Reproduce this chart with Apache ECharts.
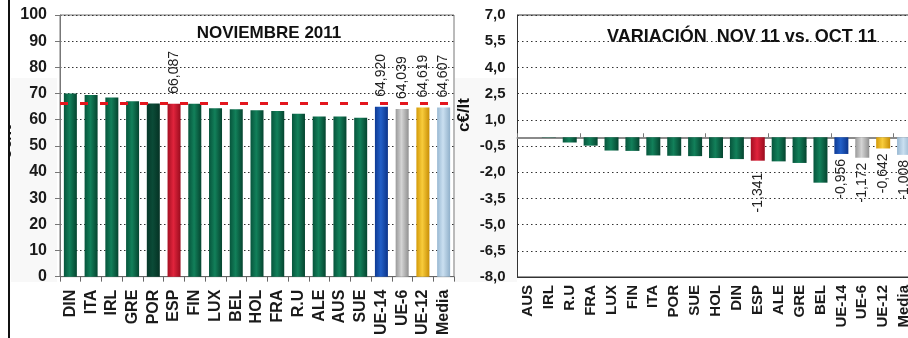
<!DOCTYPE html>
<html>
<head>
<meta charset="utf-8">
<script src="https://cdn.jsdelivr.net/npm/echarts@6/dist/echarts.min.js"></script>
<style>
  html, body { margin: 0; padding: 0; background: #fff; overflow: hidden; }
  /* a bit wider than the window: the right chart runs off the edge like the original */
  #chart { width: 930px; height: 338px; }
</style>
</head>
<body>
<div id="chart"></div>
<script>
// Noviembre 2011 (c€/lt)
const catsNov = ['DIN', 'ITA', 'IRL', 'GRE', 'POR', 'ESP', 'FIN', 'LUX', 'BEL', 'HOL', 'FRA', 'R.U', 'ALE', 'AUS', 'SUE', 'UE-14', 'UE-6', 'UE-12', 'Media'];
const valsNov = [70.0, 69.4, 68.5, 67.0, 66.2, 66.087, 66.1, 64.4, 64.0, 63.6, 63.3, 62.3, 61.2, 61.2, 60.7, 64.920, 64.039, 64.619, 64.607];
const refNov = 66.4; // linea roja discontinua

// Variacion nov 11 vs oct 11
const catsVar = ['AUS', 'IRL', 'R.U', 'FRA', 'LUX', 'FIN', 'ITA', 'POR', 'SUE', 'HOL', 'DIN', 'ESP', 'ALE', 'GRE', 'BEL', 'UE-14', 'UE-6', 'UE-12', 'Media'];
const valsVar = [0, -0.02, -0.30, -0.48, -0.76, -0.78, -1.04, -1.06, -1.08, -1.19, -1.25, -1.341, -1.38, -1.47, -2.6, -0.956, -1.172, -0.642, -1.008];

const yNov = { min: 0, max: 100, step: 10 };
const yVar = { min: -8, max: 7, step: 1.5 };
const labelled = ['ESP', 'UE-14', 'UE-6', 'UE-12', 'Media'];

const FONT = '"Liberation Sans", Arial, sans-serif';

const grad = (a, b, c) => new echarts.graphic.LinearGradient(0, 0, 1, 0, [
  { offset: 0, color: a },
  { offset: 0.45, color: b },
  { offset: 1, color: c }
]);
const green = grad('#07553c', '#12805a', '#05442f');
const barColors = {
  'ESP': grad('#a50f22', '#e0243c', '#9a0c1e'),
  'UE-14': grad('#0e3a94', '#2360c8', '#0c348a'),
  'UE-6': grad('#9a9a9a', '#d4d4d4', '#909090'),
  'UE-12': grad('#d49a08', '#f8cc3c', '#c88e06'),
  'Media': grad('#98b8d2', '#cadff0', '#90b0ca'),
  'POR': grad('#06382a', '#0b4b37', '#053224')
};

const comma = (v, d) => v.toFixed(d).replace('.', ',');

const buildData = (cats, vals, darkPor) => cats.map((c, i) => ({
  value: vals[i],
  itemStyle: { color: (c === 'POR' && !darkPor) ? green : (barColors[c] || green) },
  label: { show: labelled.includes(c), distance: c === 'ESP' && !darkPor ? 12 : undefined }
}));

const axisText = (size) => ({
  fontSize: size,
  fontWeight: 'bold',
  color: '#1a1a1a',
  fontFamily: FONT
});

const chart = echarts.init(document.getElementById('chart'));

const op = {
  animation: false,
  grid: [
    { left: 60, top: 15, width: 394, height: 267, show: true, borderColor: '#777', borderWidth: 1 },
    { left: 517.5, top: 15, width: 397, height: 262, show: true, borderColor: '#333', borderWidth: 1 }
  ],
  xAxis: [
    {
      gridIndex: 0,
      type: 'category',
      data: catsNov,
      axisLine: { lineStyle: { color: '#666' } },
      axisTick: { show: true, length: 5, lineStyle: { color: '#666' } },
      axisLabel: Object.assign({ rotate: 90, interval: 0, margin: 13 }, axisText(16))
    },
    {
      gridIndex: 1,
      type: 'category',
      data: catsVar,
      position: 'bottom',
      axisLine: { onZero: false, lineStyle: { color: '#333' } },
      axisTick: { show: false },
      axisLabel: Object.assign({ rotate: 90, interval: 0, margin: 8 }, axisText(15))
    },
    {
      // linea del cero con sus marcas
      gridIndex: 1,
      type: 'category',
      data: catsVar,
      position: 'bottom',
      axisLine: { onZero: true, lineStyle: { color: '#8a8a8a', width: 2 } },
      axisTick: { show: true, inside: true, length: 4, lineStyle: { color: '#777' } },
      axisLabel: { show: false }
    }
  ],
  yAxis: [
    {
      gridIndex: 0,
      type: 'value',
      min: yNov.min,
      max: yNov.max,
      interval: yNov.step,
      axisLine: { show: true, lineStyle: { color: '#777' } },
      axisTick: { show: true, length: 5, lineStyle: { color: '#777' } },
      axisLabel: Object.assign({ margin: 13 }, axisText(16)),
      splitLine: { lineStyle: { color: '#333', type: [1.5, 2.5] } }
    },
    {
      gridIndex: 1,
      type: 'value',
      min: yVar.min,
      max: yVar.max,
      interval: yVar.step,
      axisLine: { show: true, lineStyle: { color: '#333' } },
      axisTick: { show: false },
      axisLabel: Object.assign({ margin: 12, formatter: (v) => comma(v, 1) }, axisText(15)),
      splitLine: { lineStyle: { color: '#333', type: [1.5, 3] } }
    }
  ],
  series: [
    {
      type: 'bar',
      xAxisIndex: 0,
      yAxisIndex: 0,
      barWidth: 13,
      data: buildData(catsNov, valsNov, true),
      label: {
        position: 'top',
        rotate: 90,
        align: 'left',
        verticalAlign: 'middle',
        distance: 10,
        fontSize: 14,
        color: '#222',
        fontFamily: FONT,
        formatter: (p) => comma(p.value, 3)
      },
      markLine: {
        silent: true,
        symbol: 'none',
        label: { show: false },
        lineStyle: { color: '#e3161e', type: [8, 12], width: 3 },
        data: [{ yAxis: refNov }]
      }
    },
    {
      type: 'bar',
      xAxisIndex: 1,
      yAxisIndex: 1,
      barWidth: 14,
      data: buildData(catsVar, valsVar, false),
      label: {
        position: 'bottom',
        rotate: 90,
        align: 'right',
        verticalAlign: 'middle',
        distance: 5,
        fontSize: 14,
        color: '#222',
        fontFamily: FONT,
        formatter: (p) => comma(p.value, 3)
      }
    }
  ],
  graphic: [
    // fondo gris palido a los lados de los graficos
    { type: 'rect', x: 11, y: 78, z: -10, shape: { width: 46, height: 204 }, style: { fill: '#f8f8f8' } },
    { type: 'rect', x: 455, y: 78, z: -10, shape: { width: 62, height: 204 }, style: { fill: '#f8f8f8' } },
    {
      type: 'text', x: 269, y: 33,
      style: { text: 'NOVIEMBRE 2011', font: 'bold 17px ' + FONT, fill: '#111', align: 'center', verticalAlign: 'middle' }
    },
    {
      type: 'text', x: 742, y: 37,
      style: { text: 'VARIACIÓN  NOV 11 vs. OCT 11', font: 'bold 18px ' + FONT, fill: '#111', align: 'center', verticalAlign: 'middle' }
    },
    {
      type: 'text', x: 464, y: 115, rotation: Math.PI / 2,
      style: { text: 'c€/lt', font: 'bold 17px ' + FONT, fill: '#111', align: 'center', verticalAlign: 'middle' }
    },
    {
      type: 'text', x: 6, y: 142, rotation: Math.PI / 2,
      style: { text: 'c€/lt', font: 'bold 17px ' + FONT, fill: '#111', align: 'center', verticalAlign: 'middle' }
    },
    // borde recortado a la izquierda
    { type: 'rect', x: 0, y: 0, shape: { width: 8, height: 338 }, style: { fill: '#fff' } },
    { type: 'rect', x: 8, y: 0, shape: { width: 2, height: 338 }, style: { fill: '#111' } }
  ]
};

chart.setOption(op, true);
</script>
</body>
</html>
